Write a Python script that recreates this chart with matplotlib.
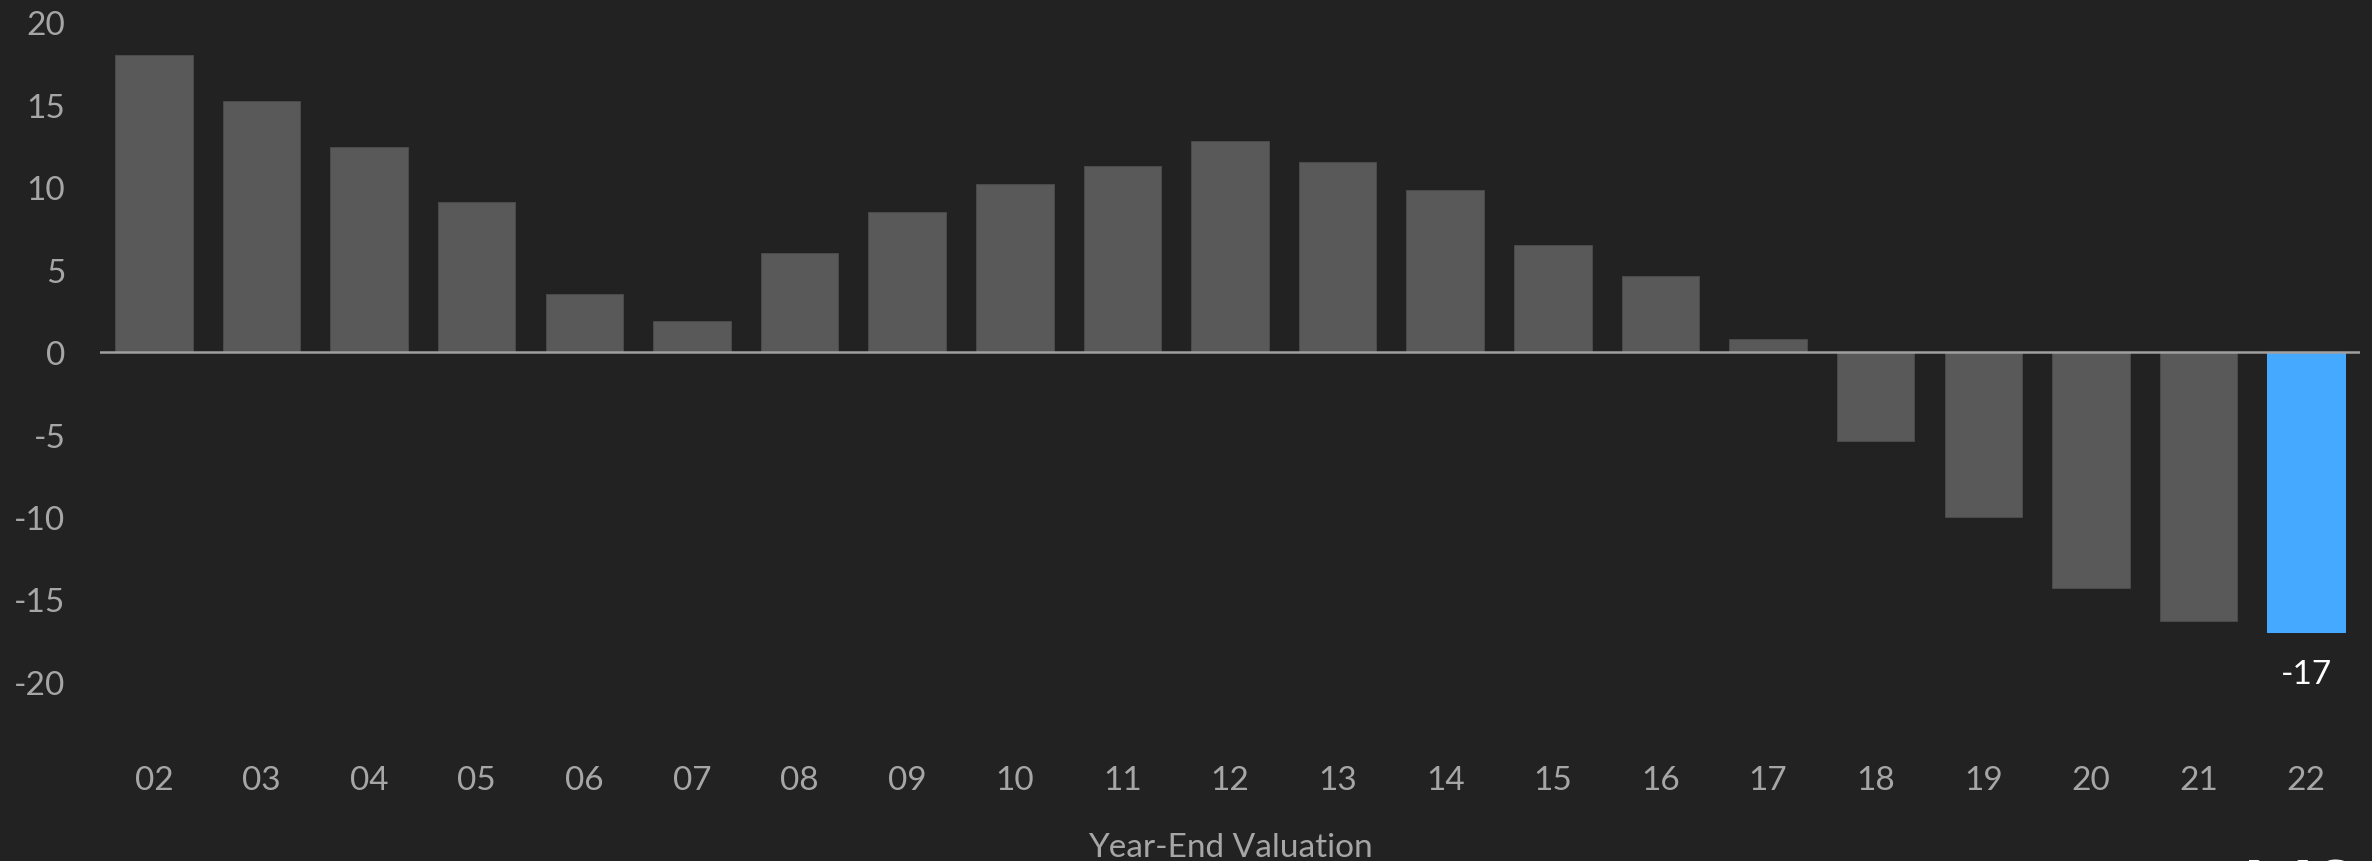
import numpy as np
import matplotlib.pyplot as plt

plt.rcParams['font.family'] = ['Lato', 'DejaVu Sans']
plt.rcParams['axes.unicode_minus'] = False

years = ["02", "03", "04", "05", "06", "07", "08", "09", "10", "11", "12",
         "13", "14", "15", "16", "17", "18", "19", "20", "21", "22"]
values = [18.0, 15.2, 12.4, 9.1, 3.5, 1.9, 6.0, 8.5, 10.2, 11.3, 12.8,
          11.5, 9.8, 6.5, 4.6, 0.8, -5.4, -10.0, -14.3, -16.3, -17.0]
highlight_label = "-17"

bg = "#222222"
grey_bar = "#595959"
blue_bar = "#45aaff"
text_grey = "#a6a6a6"

fig = plt.figure(figsize=(23.72, 8.62), dpi=100, facecolor=bg)
ax = fig.add_subplot(111)
ax.set_facecolor(bg)
fig.subplots_adjust(left=0.0422, right=0.9949, bottom=0.1311, top=0.9733)

x = np.arange(len(years))
colors = [grey_bar] * (len(years) - 1) + [blue_bar]
edges = ["#4a4a4a"] * (len(years) - 1) + [blue_bar]
ax.bar(x, values, width=0.72, color=colors, edgecolor=edges, linewidth=0.75,
       zorder=2)
ax.axhline(0, color="#a0a0a0", lw=1.8, zorder=3)

# value label under the latest bar
ax.annotate(highlight_label, xy=(x[-1], values[-1]), xytext=(0, -19),
            textcoords="offset points", ha="center", va="top",
            color="white", fontsize=24)

ax.set_xlim(-0.5, len(years) - 0.5)
ax.set_ylim(-24, 20)
ax.set_yticks(np.arange(-20, 21, 5))
ax.set_xticks(x)
ax.set_xticklabels(years)
ax.tick_params(axis="both", length=0, labelsize=24, labelcolor=text_grey)
ax.tick_params(axis="y", pad=25)
ax.tick_params(axis="x", pad=12)
ax.set_xlabel("Year-End Valuation", fontsize=24, color=text_grey, labelpad=27)

for s in ax.spines.values():
    s.set_visible(False)

# logo text running off the bottom edge
fig.text(2243 / 2372, 0.0046, "MS", ha="left", va="top", color="white",
         fontsize=54, fontweight="bold")

fig.savefig("out.png", dpi=100, facecolor=bg)
